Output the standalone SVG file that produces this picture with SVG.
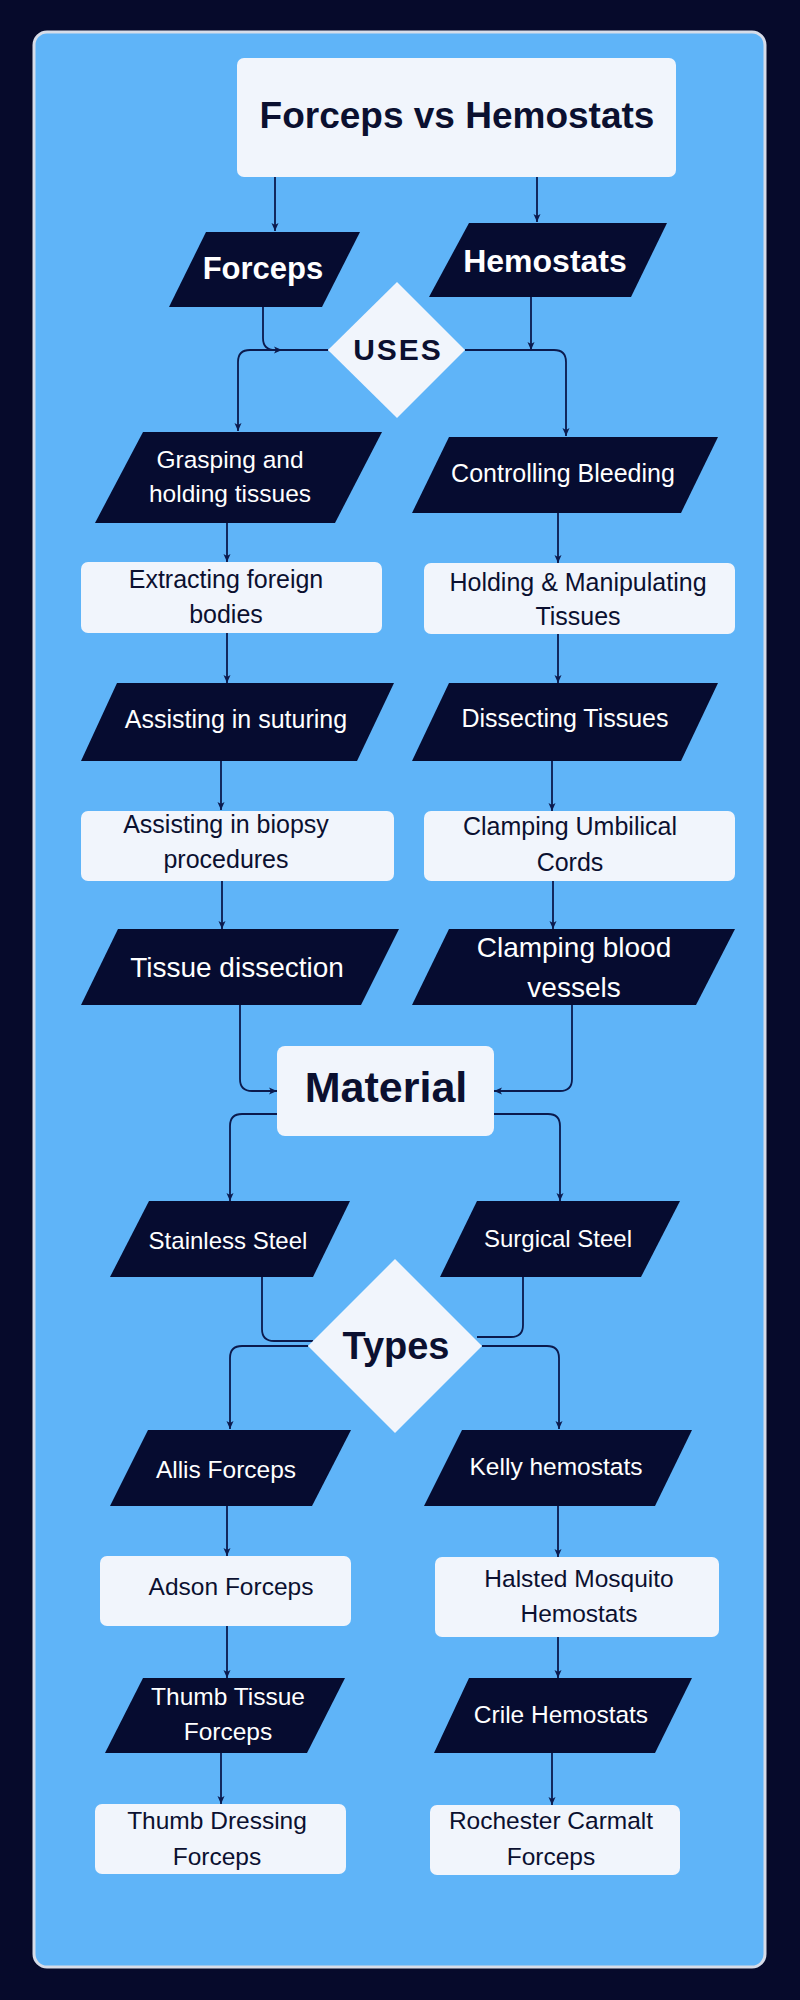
<svg xmlns="http://www.w3.org/2000/svg" width="800" height="2000" viewBox="0 0 800 2000">
<defs>
<marker id="arr" markerUnits="userSpaceOnUse" markerWidth="10" markerHeight="10" viewBox="0 0 10 10" refX="9" refY="5" orient="auto">
<path d="M1,1.5 L9,5 L1,8.5 L3,5 Z" fill="#0b1a4d"/>
</marker>
<style>
.para{fill:#060c30}
.box{fill:#f1f5fc}
.dia{fill:#f1f5fc}
.wt{fill:#ffffff;font-family:"Liberation Sans",Arial,sans-serif;text-anchor:middle}
.dt{fill:#0b1030;font-family:"Liberation Sans",Arial,sans-serif;text-anchor:middle}
.bold{font-weight:bold}
.con path{fill:none;stroke:#0b1a4d;stroke-width:1.8}
</style>
</defs>
<rect x="0" y="0" width="800" height="2000" fill="#060a2b"/>
<rect x="34" y="32" width="731" height="1935" rx="13" fill="#5fb4f8" stroke="#d6dce8" stroke-width="3"/>

<g class="con">
<path d="M275,177 V231" marker-end="url(#arr)"/>
<path d="M537,177 V222" marker-end="url(#arr)"/>
<path d="M263,307 V338 Q263,350 275,350 H282" marker-end="url(#arr)"/>
<path d="M328,350 H250 Q238,350 238,362 V431" marker-end="url(#arr)"/>
<path d="M531,297 V350" marker-end="url(#arr)"/>
<path d="M465,350 H554 Q566,350 566,362 V436" marker-end="url(#arr)"/>
<path d="M227,523 V562" marker-end="url(#arr)"/>
<path d="M227,633 V683" marker-end="url(#arr)"/>
<path d="M221,761 V810" marker-end="url(#arr)"/>
<path d="M222,881 V929" marker-end="url(#arr)"/>
<path d="M240,1005 V1079 Q240,1091 252,1091 H277" marker-end="url(#arr)"/>
<path d="M558,513 V563" marker-end="url(#arr)"/>
<path d="M558,634 V683" marker-end="url(#arr)"/>
<path d="M552,761 V811" marker-end="url(#arr)"/>
<path d="M553,881 V929" marker-end="url(#arr)"/>
<path d="M572,1005 V1079 Q572,1091 560,1091 H494" marker-end="url(#arr)"/>
<path d="M277,1114 H242 Q230,1114 230,1126 V1201" marker-end="url(#arr)"/>
<path d="M494,1114 H548 Q560,1114 560,1126 V1201" marker-end="url(#arr)"/>
<path d="M262,1277 V1329 Q262,1341 274,1341 H313"/>
<path d="M523,1277 V1325 Q523,1337 511,1337 H477"/>
<path d="M308,1346 H242 Q230,1346 230,1358 V1429" marker-end="url(#arr)"/>
<path d="M482,1346 H547 Q559,1346 559,1358 V1429" marker-end="url(#arr)"/>
<path d="M227,1506 V1556" marker-end="url(#arr)"/>
<path d="M227,1626 V1678" marker-end="url(#arr)"/>
<path d="M221,1753 V1804" marker-end="url(#arr)"/>
<path d="M558,1506 V1557" marker-end="url(#arr)"/>
<path d="M558,1637 V1678" marker-end="url(#arr)"/>
<path d="M552,1753 V1805" marker-end="url(#arr)"/>
</g>

<g id="title">
<rect class="box" x="237" y="58" width="439" height="119" rx="7"/>
<text class="dt bold" x="457" y="128" style="font-size:37px">Forceps vs Hemostats</text>
</g>
<g id="forceps">
<polygon class="para" points="206,232 360,232 322,307 169,307"/>
<text class="wt bold" x="263" y="279" style="font-size:31px">Forceps</text>
</g>
<g id="hemostats">
<polygon class="para" points="469,223 667,223 631,297 429,297"/>
<text class="wt bold" x="545" y="272" style="font-size:32px">Hemostats</text>
</g>
<g id="uses">
<polygon class="dia" points="397,282 465,350 397,418 328,350"/>
<text class="dt bold" x="398" y="360" style="font-size:30px;letter-spacing:2px">USES</text>
</g>
<g id="grasping">
<polygon class="para" points="143,432 382,432 335,523 95,523"/>
<text class="wt" x="230" y="468" style="font-size:24.5px">Grasping and</text>
<text class="wt" x="230" y="502" style="font-size:24.5px">holding tissues</text>
</g>
<g id="controlling">
<polygon class="para" points="449,437 718,437 681,513 412,513"/>
<text class="wt" x="563" y="482" style="font-size:25px">Controlling Bleeding</text>
</g>
<g id="extracting">
<rect class="box" x="81" y="562" width="301" height="71" rx="7"/>
<text class="dt" x="226" y="588" style="font-size:25px">Extracting foreign</text>
<text class="dt" x="226" y="623" style="font-size:25px">bodies</text>
</g>
<g id="holding">
<rect class="box" x="424" y="563" width="311" height="71" rx="7"/>
<text class="dt" x="578" y="591" style="font-size:25px">Holding &amp; Manipulating</text>
<text class="dt" x="578" y="625" style="font-size:25px">Tissues</text>
</g>
<g id="suturing">
<polygon class="para" points="117,683 394,683 357,761 81,761"/>
<text class="wt" x="236" y="728" style="font-size:25px">Assisting in suturing</text>
</g>
<g id="dissecting">
<polygon class="para" points="449,683 718,683 681,761 412,761"/>
<text class="wt" x="565" y="727" style="font-size:25px">Dissecting Tissues</text>
</g>
<g id="biopsy">
<rect class="box" x="81" y="811" width="313" height="70" rx="7"/>
<text class="dt" x="226" y="833" style="font-size:25px">Assisting in biopsy</text>
<text class="dt" x="226" y="868" style="font-size:25px">procedures</text>
</g>
<g id="umbilical">
<rect class="box" x="424" y="811" width="311" height="70" rx="7"/>
<text class="dt" x="570" y="835" style="font-size:25px">Clamping Umbilical</text>
<text class="dt" x="570" y="871" style="font-size:25px">Cords</text>
</g>
<g id="tissue-dissection">
<polygon class="para" points="118,929 399,929 361,1005 81,1005"/>
<text class="wt" x="237" y="977" style="font-size:28px">Tissue dissection</text>
</g>
<g id="clamping-blood">
<polygon class="para" points="449,929 735,929 696,1005 412,1005"/>
<text class="wt" x="574" y="957" style="font-size:28px">Clamping blood</text>
<text class="wt" x="574" y="997" style="font-size:28px">vessels</text>
</g>
<g id="material">
<rect class="box" x="277" y="1046" width="217" height="90" rx="8"/>
<text class="dt bold" x="386" y="1102" style="font-size:43px">Material</text>
</g>
<g id="stainless">
<polygon class="para" points="149,1201 350,1201 313,1277 110,1277"/>
<text class="wt" x="228" y="1249" style="font-size:24px">Stainless Steel</text>
</g>
<g id="surgical">
<polygon class="para" points="477,1201 680,1201 641,1277 440,1277"/>
<text class="wt" x="558" y="1247" style="font-size:24px">Surgical Steel</text>
</g>
<g id="types">
<polygon class="dia" points="395,1259 482,1346 395,1433 308,1346"/>
<text class="dt bold" x="396" y="1359" style="font-size:38px">Types</text>
</g>
<g id="allis">
<polygon class="para" points="148,1430 351,1430 312,1506 110,1506"/>
<text class="wt" x="226" y="1478" style="font-size:24.5px">Allis Forceps</text>
</g>
<g id="kelly">
<polygon class="para" points="462,1430 692,1430 655,1506 424,1506"/>
<text class="wt" x="556" y="1475" style="font-size:24.5px">Kelly hemostats</text>
</g>
<g id="adson">
<rect class="box" x="100" y="1556" width="251" height="70" rx="7"/>
<text class="dt" x="231" y="1595" style="font-size:24.5px">Adson Forceps</text>
</g>
<g id="halsted">
<rect class="box" x="435" y="1557" width="284" height="80" rx="7"/>
<text class="dt" x="579" y="1587" style="font-size:24.5px">Halsted Mosquito</text>
<text class="dt" x="579" y="1622" style="font-size:24.5px">Hemostats</text>
</g>
<g id="thumb-tissue">
<polygon class="para" points="143,1678 345,1678 307,1753 105,1753"/>
<text class="wt" x="228" y="1705" style="font-size:24.5px">Thumb Tissue</text>
<text class="wt" x="228" y="1740" style="font-size:24.5px">Forceps</text>
</g>
<g id="crile">
<polygon class="para" points="469,1678 692,1678 655,1753 434,1753"/>
<text class="wt" x="561" y="1723" style="font-size:24.5px">Crile Hemostats</text>
</g>
<g id="thumb-dressing">
<rect class="box" x="95" y="1804" width="251" height="70" rx="7"/>
<text class="dt" x="217" y="1829" style="font-size:24.5px">Thumb Dressing</text>
<text class="dt" x="217" y="1865" style="font-size:24.5px">Forceps</text>
</g>
<g id="rochester">
<rect class="box" x="430" y="1805" width="250" height="70" rx="7"/>
<text class="dt" x="551" y="1829" style="font-size:24.5px">Rochester Carmalt</text>
<text class="dt" x="551" y="1865" style="font-size:24.5px">Forceps</text>
</g>
</svg>
